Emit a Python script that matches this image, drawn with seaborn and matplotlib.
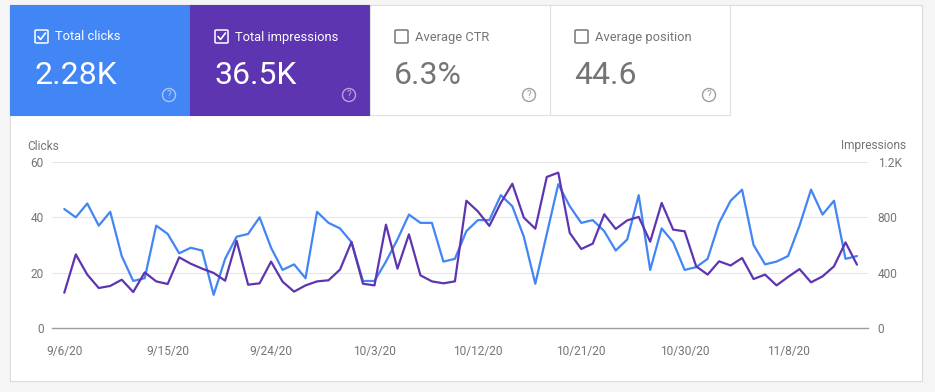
import pandas as pd
import numpy as np
import matplotlib
matplotlib.use("Agg")
import matplotlib.pyplot as plt
import matplotlib.patches as mpatches
import seaborn as sns

# daily values, 9/6/20 .. 11/14/20
clicks = [43, 40, 45, 37, 42, 26, 17, 18, 37, 34,
          27, 29, 28, 12, 25, 33, 34, 40, 29, 21,
          23, 18, 42, 38, 36, 31, 17, 17, 24, 32,
          41, 38, 38, 24, 25, 35, 39, 39, 48, 44,
          33, 16, 34, 52, 44, 38, 39, 35, 28, 32,
          48, 21, 36, 31, 21, 22, 25, 38, 46, 50,
          30, 23, 24, 26, 37, 50, 41, 46, 25, 26]
impressions = [255, 532, 386, 289, 304, 349, 260, 402, 337, 318,
               511, 465, 429, 398, 342, 631, 313, 323, 480, 335,
               263, 308, 337, 345, 422, 622, 320, 308, 747, 429,
               677, 381, 337, 323, 337, 920, 843, 738, 905, 1043,
               798, 718, 1092, 1123, 687, 571, 610, 822, 716, 778,
               803, 624, 904, 711, 699, 446, 386, 482, 452, 506,
               354, 386, 308, 369, 426, 330, 373, 446, 619, 458]
dates = pd.date_range("2020-09-06", periods=len(clicks), freq="D")
tick_dates = pd.date_range("2020-09-06", periods=8, freq="9D")
tick_labels = ["9/6/20", "9/15/20", "9/24/20", "10/3/20",
               "10/12/20", "10/21/20", "10/30/20", "11/8/20"]

tiles = [
    ("Total clicks", "2.28K", "#4285f4", True),
    ("Total impressions", "36.5K", "#5e35b1", True),
    ("Average CTR", "6.3%", "#ffffff", False),
    ("Average position", "44.6", "#ffffff", False),
]

BLUE = "#4285f4"
PURPLE = "#5e35b1"
GREY = "#757575"

df = pd.DataFrame({"date": dates, "clicks": clicks, "impressions": impressions})

sns.set_style("white")
plt.rcParams["font.family"] = ["Roboto", "DejaVu Sans"]

W, H = 935, 392
fig = plt.figure(figsize=(W / 100, H / 100), dpi=100, facecolor="#f5f5f5")


def fx(px):
    return px / W


def fy(py):
    return 1 - py / H


# card background
card = mpatches.Rectangle((fx(10), fy(381)), fx(912), (381 - 5) / H,
                          transform=fig.transFigure, facecolor="white",
                          edgecolor="#dcdcdc", linewidth=0.8, zorder=-5)
fig.patches.append(card)

# metric tiles
for i, (label, value, color, active) in enumerate(tiles):
    x0 = 10 + i * 180
    fig.patches.append(mpatches.Rectangle((fx(x0), fy(115)), fx(180), 110 / H,
                                          transform=fig.transFigure, facecolor=color,
                                          edgecolor="#e0e0e0" if not active else color,
                                          linewidth=0.8, zorder=1))
    fg = "white" if active else GREY
    # checkbox
    fig.patches.append(mpatches.FancyBboxPatch((fx(x0 + 25), fy(43)), fx(13), 13 / H,
                                               boxstyle="round,pad=0,rounding_size=0.002",
                                               transform=fig.transFigure, facecolor="none",
                                               edgecolor=fg, linewidth=1.1, zorder=2))
    if active:
        fig.add_artist(plt.Line2D([fx(x0 + 28), fx(x0 + 30.5), fx(x0 + 35.5)],
                                  [fy(36.5), fy(39.5), fy(33)],
                                  transform=fig.transFigure, color="white", linewidth=1.2))
    fig.text(fx(x0 + 45), fy(37), label, color=fg, fontsize=9.3, va="center", ha="left")
    fig.text(fx(x0 + 24), fy(84), value, color=fg, fontsize=23,
             va="baseline", ha="left")
    # help icon
    icon_color = (1, 1, 1, 0.55) if active else "#9e9e9e"
    fig.patches.append(mpatches.Ellipse((fx(x0 + 159), fy(95)), fx(13), 13 / H,
                                        transform=fig.transFigure, facecolor="none",
                                        edgecolor=icon_color, linewidth=1.0, zorder=2))
    fig.text(fx(x0 + 159), fy(95.5), "?", color=icon_color, fontsize=7,
             ha="center", va="center")

# chart
ax = fig.add_axes([fx(52), fy(328), fx(816), 166 / H])
ax.set_facecolor("none")
sns.lineplot(data=df, x="date", y="clicks", ax=ax, color=BLUE, linewidth=1.6)
ax.set_ylim(0, 60)
ax.set_xlim(dates[0] - pd.Timedelta(days=1.07), dates[-1] + pd.Timedelta(days=0.96))
ax.set_yticks([0, 20, 40, 60])
ax.grid(axis="y", color="#e6e6e6", linewidth=0.8)
ax.set_axisbelow(True)
ax.set_xticks(tick_dates)
ax.set_xticklabels(tick_labels)
ax.set_xlabel("")
ax.set_ylabel("")
for s in ["top", "right", "left"]:
    ax.spines[s].set_visible(False)
ax.spines["bottom"].set_color("#9e9e9e")
ax.spines["bottom"].set_linewidth(1.0)
ax.tick_params(axis="both", length=0, colors=GREY, labelsize=8.6)
ax.tick_params(axis="x", pad=12)
ax.tick_params(axis="y", pad=6)

ax2 = ax.twinx()
sns.lineplot(data=df, x="date", y="impressions", ax=ax2, color=PURPLE, linewidth=1.6)
ax2.set_ylim(0, 1200)
ax2.set_yticks([0, 400, 800, 1200])
ax2.set_yticklabels(["0", "400", "800", "1.2K"])
ax2.set_ylabel("")
for s in ax2.spines.values():
    s.set_visible(False)
ax2.tick_params(axis="y", length=0, colors=GREY, labelsize=8.6, pad=7)
ax2.grid(False)

fig.text(fx(27), fy(146), "Clicks", color=GREY, fontsize=8.6, va="center", ha="left")
fig.text(fx(906), fy(146), "Impressions", color=GREY, fontsize=8.6, va="center", ha="right")

fig.savefig("out.png", dpi=100, facecolor=fig.get_facecolor())
